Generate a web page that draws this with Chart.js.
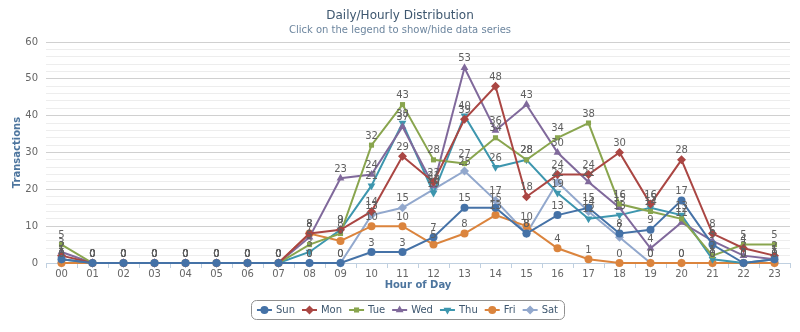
<!DOCTYPE html>
<html><head><meta charset="utf-8">
<script src="https://cdn.jsdelivr.net/npm/chart.js@4.4.0/dist/chart.umd.min.js"></script>
<style>html,body{margin:0;padding:0;background:#fff}#wrap{width:800px;height:332px;position:relative}</style>
</head><body><div id="wrap"><canvas id="c"></canvas></div>
<script>
const hours = ['00','01','02','03','04','05','06','07','08','09','10','11','12','13','14','15','16','17','18','19','20','21','22','23'];
const sun = [1,0,0,0,0,0,0,0,0,0,3,3,7,15,15,8,13,15,8,9,17,5,0,1];
const mon = [2,0,0,0,0,0,0,0,8,9,14,29,22,39,48,18,24,24,30,16,28,8,4,2];
const tue = [5,0,0,0,0,0,0,0,5,8,32,43,28,27,34,28,34,38,16,14,12,2,5,5];
const wed = [3,0,0,0,0,0,0,0,7,23,24,37,21,53,36,43,30,22,15,4,11,6,2,1];
const thu = [1,0,0,0,0,0,0,0,3,9,21,38,19,40,26,28,19,12,13,15,13,1,0,1];
const fri = [0,0,0,0,0,0,0,0,8,6,10,10,5,8,13,10,4,1,0,0,0,0,0,0];
const sat = [0,0,0,0,0,0,0,0,0,0,13,15,20,25,17,8,22,14,7,0,0,0,0,0];
const seriesNames = ['Sun','Mon','Tue','Wed','Thu','Fri','Sat'];
const seriesData = [sun,mon,tue,wed,thu,fri,sat];
const colors = ['#4572A7','#AA4643','#89A54E','#80699B','#3D96AE','#DB843D','#92A8CD'];
const styles = ['circle','rectRot','rect','triangle','triangle','circle','rectRot'];
const rots = [0,0,0,0,180,0,0];
const radii = [4,4.5,3.6,4.5,4.5,4,4.5];
const FONT = '"DejaVu Sans", Verdana, sans-serif';

const datasets = seriesNames.map((n,i)=>({
  label:n, data:seriesData[i], borderColor:colors[i], backgroundColor:colors[i],
  pointStyle:styles[i], pointRotation:rots[i], pointRadius:radii[i], pointBorderWidth:0,
  pointHoverRadius:radii[i], borderWidth:2, tension:0, clip:false
}));

const dataLabels = {
  id:'dl',
  afterDatasetsDraw(chart){
    const ctx=chart.ctx; ctx.save();
    ctx.font='10px '+FONT; ctx.fillStyle='#606060'; ctx.textAlign='center'; ctx.textBaseline='middle';
    chart.data.datasets.forEach((ds,i)=>{
      const meta=chart.getDatasetMeta(i);
      meta.data.forEach((pt,j)=>{ ctx.fillText(String(ds.data[j]), pt.x, pt.y-9); });
    });
    ctx.restore();
  }
};

const decor = {
  id:'decor',
  afterDraw(chart){
    const ctx=chart.ctx, ca=chart.chartArea; ctx.save();
    ctx.textAlign='center'; ctx.textBaseline='middle';
    ctx.fillStyle='#3E576F'; ctx.font='12px '+FONT; ctx.fillText('Daily/Hourly Distribution',400,16);
    ctx.fillStyle='#6D869F'; ctx.font='10px '+FONT; ctx.fillText('Click on the legend to show/hide data series',400,30);
    ctx.fillStyle='#4D759E'; ctx.font='bold 10px '+FONT;
    ctx.fillText('Hour of Day',(ca.left+ca.right)/2,285);
    ctx.save(); ctx.translate(17,(ca.top+ca.bottom)/2); ctx.rotate(-Math.PI/2); ctx.fillText('Transactions',0,0); ctx.restore();
    // legend
    ctx.font='10px '+FONT;
    const sym=15, gap=4, sp=7, pad=6;
    const widths=seriesNames.map(n=>sym+gap+ctx.measureText(n).width);
    const total=widths.reduce((a,b)=>a+b,0)+sp*(seriesNames.length-1);
    const boxW=total+2*pad, boxL=407.5-boxW/2, boxT=300, boxH=19;
    ctx.strokeStyle='#909090'; ctx.lineWidth=1;
    ctx.beginPath(); if(ctx.roundRect){ctx.roundRect(Math.round(boxL)+0.5,boxT+0.5,Math.round(boxW),boxH,5);}else{ctx.rect(Math.round(boxL)+0.5,boxT+0.5,Math.round(boxW),boxH);} ctx.stroke();
    let x=boxL+pad; const y=boxT+boxH/2+0.5;
    seriesNames.forEach((n,i)=>{
      ctx.strokeStyle=colors[i]; ctx.lineWidth=2;
      ctx.beginPath(); ctx.moveTo(x,y); ctx.lineTo(x+sym,y); ctx.stroke();
      ctx.fillStyle=colors[i];
      Chart.helpers.drawPoint(ctx,{pointStyle:styles[i],radius:radii[i],rotation:rots[i],borderWidth:0},x+sym/2,y);
      ctx.fillStyle='#3E576F'; ctx.textAlign='left';
      ctx.fillText(n,x+sym+gap,y);
      x+=widths[i]+sp;
    });
    ctx.restore();
  }
};

new Chart(document.getElementById('c'),{
  type:'line',
  data:{labels:hours,datasets},
  options:{
    responsive:true, maintainAspectRatio:false, animation:false,
    layout:{padding:{top:42,left:0,right:10,bottom:0}},
    plugins:{legend:{display:false},title:{display:false},tooltip:{enabled:false}},
    scales:{
      x:{type:'category',offset:true,
        grid:{display:true,offset:true,drawOnChartArea:false,drawTicks:true,tickLength:5,color:'#C0D0E0'},
        border:{display:true,color:'#C0D0E0',width:1},
        ticks:{color:'#666',font:{family:FONT,size:10},padding:0,autoSkip:false,maxRotation:0},
        afterFit(s){s.height=69;}
      },
      y:{min:0,max:60,
        grid:{color:(c)=> (c.tick && c.tick.value%10===0)?'#D0D0D0':'#EDEDED',drawTicks:false},
        border:{display:false},
        ticks:{stepSize:2,maxTicksLimit:100,autoSkip:false,padding:8,color:'#666',font:{family:FONT,size:10},
          callback:(v)=> v%10===0?String(v):''},
        afterFit(s){s.width=46;}
      }
    }
  },
  plugins:[dataLabels,decor]
});
</script></body></html>
